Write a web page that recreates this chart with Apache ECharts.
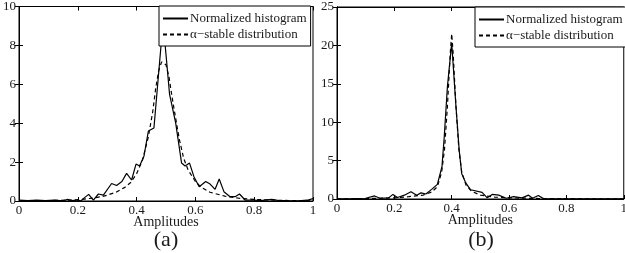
<!DOCTYPE html>
<html lang="en">
<head>
<meta charset="UTF-8">
<title>Amplitude histograms</title>
<style>
    html, body { margin: 0; padding: 0; overflow: hidden; background: #fff; }
    #chart { width: 630px; height: 253px; }
</style>
</head>
<body>
<div id="chart"></div>
<script src="https://cdn.jsdelivr.net/npm/echarts@6/dist/echarts.min.js"></script>
<script>
    // panel (a): normalized histogram
    var ampA  = [0, 0.03, 0.06, 0.09, 0.12, 0.15, 0.165, 0.18, 0.2, 0.21, 0.225, 0.237, 0.253, 0.27, 0.287, 0.315, 0.332, 0.35, 0.366, 0.383, 0.398, 0.41, 0.425, 0.44, 0.459, 0.474, 0.49, 0.502, 0.512, 0.533, 0.553, 0.565, 0.58, 0.595, 0.613, 0.635, 0.65, 0.667, 0.681, 0.697, 0.718, 0.735, 0.75, 0.769, 0.8, 0.82, 0.86, 0.88, 0.92, 0.96, 0.98, 1.0];
    var histA = [0.05, 0.02, 0.04, 0.02, 0.04, 0.01, 0.08, 0.02, 0.06, 0.0, 0.2, 0.34, 0.05, 0.36, 0.3, 0.9, 0.8, 1.0, 1.42, 1.08, 1.9, 1.8, 2.3, 3.6, 3.75, 6.4, 9.2, 7.2, 5.5, 4.0, 1.95, 1.8, 1.95, 1.25, 0.73, 1.0, 0.87, 0.6, 1.13, 0.48, 0.22, 0.22, 0.36, 0.05, 0.04, 0.02, 0.08, 0.03, 0.01, 0.02, 0.04, 0.12];
    // panel (a): alpha-stable fit
    var fitXA = [0, 0.1, 0.2, 0.25, 0.28, 0.3, 0.33, 0.36, 0.38, 0.4, 0.42, 0.44, 0.455, 0.465, 0.475, 0.485, 0.49, 0.5, 0.51, 0.52, 0.53, 0.545, 0.56, 0.575, 0.6, 0.62, 0.65, 0.7, 0.75, 0.8, 0.9, 1.0];
    var fitYA = [0.01, 0.02, 0.06, 0.15, 0.22, 0.3, 0.45, 0.7, 0.95, 1.4, 2.1, 3.3, 4.6, 5.8, 6.7, 7.15, 7.2, 7.0, 6.4, 5.4, 4.5, 3.2, 2.2, 1.6, 1.0, 0.7, 0.45, 0.25, 0.14, 0.08, 0.03, 0.01];

    // panel (b): normalized histogram
    var ampB  = [0, 0.05, 0.1, 0.131, 0.15, 0.18, 0.195, 0.211, 0.235, 0.258, 0.278, 0.293, 0.31, 0.33, 0.35, 0.366, 0.374, 0.385, 0.4, 0.414, 0.426, 0.435, 0.449, 0.466, 0.472, 0.506, 0.524, 0.541, 0.564, 0.59, 0.616, 0.645, 0.668, 0.682, 0.702, 0.72, 0.8, 0.9, 1.0];
    var histB = [0.02, 0.05, 0.1, 0.4, 0.1, 0.15, 0.6, 0.2, 0.5, 0.95, 0.5, 0.8, 0.65, 1.25, 1.9, 4.2, 8.1, 14.6, 20.3, 12.5, 6.4, 3.3, 2.1, 1.2, 1.05, 0.87, 0.15, 0.6, 0.5, 0.1, 0.3, 0.15, 0.5, 0.1, 0.45, 0.05, 0.03, 0.02, 0.02];
    // panel (b): alpha-stable fit
    var fitXB = [0, 0.1, 0.2, 0.25, 0.3, 0.33, 0.35, 0.365, 0.375, 0.385, 0.395, 0.4, 0.405, 0.415, 0.425, 0.435, 0.45, 0.47, 0.5, 0.55, 0.6, 0.7, 0.8, 1.0];
    var fitYB = [0.0, 0.05, 0.15, 0.3, 0.5, 0.9, 1.6, 3.5, 6.5, 12, 19, 21.5, 19, 12, 6.5, 3.5, 1.8, 1.0, 0.5, 0.25, 0.15, 0.07, 0.04, 0.02];

    var seriesNames = ['Normalized histogram', 'α−stable distribution'];
    var xTicks = { min: 0, max: 1, interval: 0.2 };
    var yTicksA = { min: 0, max: 10, interval: 2 };
    var yTicksB = { min: 0, max: 25, interval: 5 };

    function zip(xs, ys) {
        return xs.map(function (x, i) { return [x, ys[i]]; });
    }

    var font = 'Liberation Serif, Times New Roman, serif';
    var ink = '#1a1a1a';

    function xAx(grid, pos, show) {
        return {
            type: 'value', gridIndex: grid, position: pos,
            min: xTicks.min, max: xTicks.max, interval: xTicks.interval,
            axisLine: { show: true, onZero: false, lineStyle: { color: '#000', width: 1 } },
            axisTick: { show: true, inside: true, length: 4, lineStyle: { color: '#000' } },
            axisLabel: { show: show, color: ink, fontFamily: font, fontSize: 13, margin: 3 },
            splitLine: { show: false },
            name: show ? 'Amplitudes' : '', nameLocation: 'middle', nameGap: 14,
            nameMoveOverlap: false,
            nameTextStyle: { color: ink, fontFamily: font, fontSize: 14 }
        };
    }
    function yAx(grid, pos, t, show) {
        return {
            type: 'value', gridIndex: grid, position: pos,
            min: t.min, max: t.max, interval: t.interval,
            axisLine: { show: true, lineStyle: { color: '#000', width: 1 } },
            axisTick: { show: true, inside: true, length: 4, lineStyle: { color: '#000' } },
            axisLabel: { show: show, color: ink, fontFamily: font, fontSize: 13, margin: 3 },
            splitLine: { show: false }
        };
    }
    function line(name, data, xi, yi, dashed) {
        return {
            name: name, type: 'line', xAxisIndex: xi, yAxisIndex: yi,
            data: data, symbol: 'none', silent: true, animation: false,
            lineStyle: { color: '#000', width: 1.2, type: dashed ? [4, 3] : 'solid' },
            itemStyle: { color: '#000' },
            z: dashed ? 3 : 2
        };
    }
    function legendAt(left, top) {
        return {
            data: seriesNames, orient: 'vertical', left: left, top: top,
            itemWidth: 25, itemHeight: 12, itemGap: 3,
            padding: [6, 4, 5, 3],
            backgroundColor: '#fff', borderColor: '#000', borderWidth: 1,
            itemStyle: { opacity: 0 },
            textStyle: { color: ink, fontFamily: font, fontSize: 13, padding: [0, 0, 0, -3] },
            selectedMode: false, z: 10
        };
    }

    var myChart = echarts.init(document.getElementById('chart'), null, { renderer: 'canvas' });
    var option = {
        backgroundColor: '#fff',
        animation: false,
        title: [
            { text: '(a)', left: 166, top: 229, textAlign: 'center', padding: 0,
              textStyle: { color: ink, fontFamily: font, fontSize: 22, fontWeight: 'normal' } },
            { text: '(b)', left: 481, top: 229, textAlign: 'center', padding: 0,
              textStyle: { color: ink, fontFamily: font, fontSize: 22, fontWeight: 'normal' } }
        ],
        grid: [
            { left: 19, top: 6, width: 294, height: 195, show: true, borderColor: '#000', borderWidth: 1, backgroundColor: '#fff' },
            { left: 337, top: 7, width: 289, height: 192, show: true, borderColor: '#000', borderWidth: 1, backgroundColor: '#fff' }
        ],
        legend: [legendAt(159, 6), legendAt(475, 7)],
        xAxis: [xAx(0, 'bottom', true), xAx(0, 'top', false), xAx(1, 'bottom', true), xAx(1, 'top', false)],
        yAxis: [yAx(0, 'left', yTicksA, true), yAx(0, 'right', yTicksA, false),
                yAx(1, 'left', yTicksB, true), yAx(1, 'right', yTicksB, false)],
        series: [
            line(seriesNames[0], zip(ampA, histA), 0, 0, false),
            line(seriesNames[1], zip(fitXA, fitYA), 0, 0, true),
            line(seriesNames[0], zip(ampB, histB), 2, 2, false),
            line(seriesNames[1], zip(fitXB, fitYB), 2, 2, true)
        ]
    };
    myChart.setOption(option);
</script>
</body>
</html>
